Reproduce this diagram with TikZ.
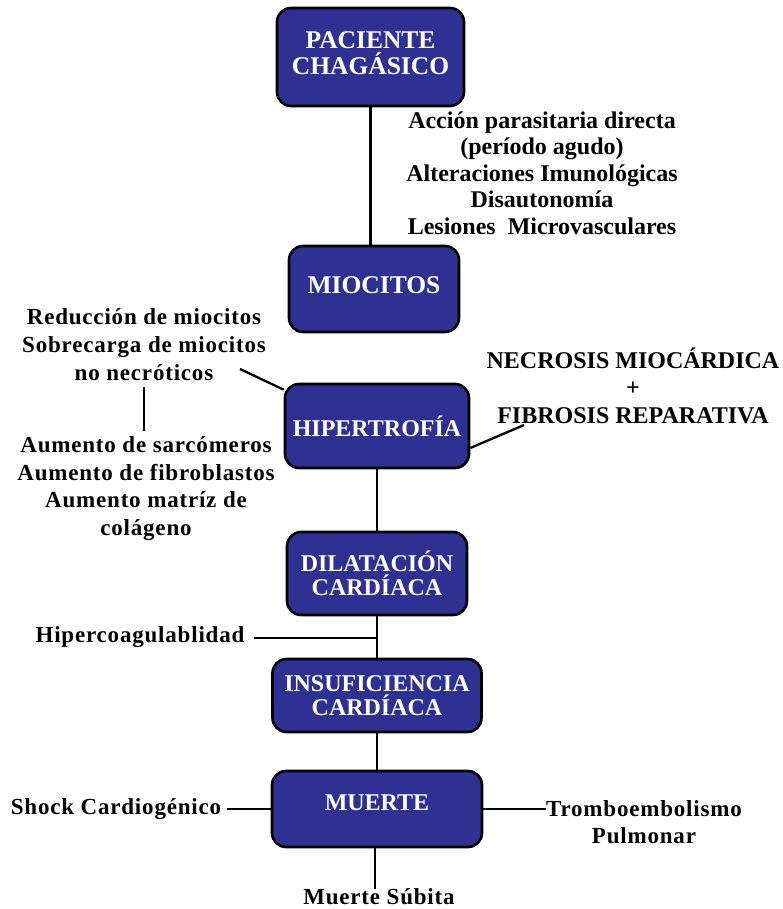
\documentclass[tikz,border=0pt]{standalone}
\usepackage{fontspec}
\setmainfont{Liberation Serif}
\newfontfamily\spacedfont[LetterSpace=3.5]{Liberation Serif}
\definecolor{boxblue}{RGB}{46,49,146}

\begin{document}
\begin{tikzpicture}[
x=1pt,
y=-1pt,
font=\bfseries\fontsize{24}{26.5}\selectfont,
box/.style={
rectangle,
rounded corners=14pt,
draw=black,
line width=2.6pt,
fill=boxblue,
text=white,
align=center,
inner sep=0pt,
font=\bfseries\fontsize{24}{24.5}\selectfont
},
note/.style={
align=center,
inner sep=0pt
},
spaced/.style={
font=\spacedfont\bfseries\fontsize{23}{#1}\selectfont
},
spaced/.default=27.7,
link/.style={
line width=2.3pt
}
]

\useasboundingbox (0,0) rectangle (783,909);

% Main column
\node[box, minimum width=187pt, minimum height=98pt, text depth=8pt,
font=\bfseries\fontsize{25.5}{25.5}\selectfont] (paciente) at (370.5,57)
{PACIENTE\\CHAGÁSICO};

\node[box, minimum width=170pt, minimum height=86pt, text depth=8pt,
font=\bfseries\fontsize{25.5}{25.5}\selectfont] (miocitos) at (374,289)
{MIOCITOS};

\node[box, minimum width=184pt, minimum height=84pt] (hipertrofia) at (377,426)
{HIPERTROFÍA};

\node[box, minimum width=180pt, minimum height=83pt] (dilatacion) at (377,573.5)
{DILATACIÓN\\CARDÍACA};

\node[box, minimum width=209pt, minimum height=73pt] (insuficiencia) at (377,695.5)
{INSUFICIENCIA\\CARDÍACA};

\node[box, minimum width=210pt, minimum height=76pt, text depth=12pt] (muerte) at (377,809)
{MUERTE};

% Side notes
\node[note] (causas) at (542,173)
{Acción parasitaria directa\\(período agudo)\\Alteraciones Imunológicas\\Disautonomía\\Lesiones\ \ Microvasculares};

\node[note, spaced=28] (reduccion) at (144,345)
{Reducción de miocitos\\Sobrecarga de miocitos\\no necróticos};

\node[note, spaced] (aumento) at (146,488.5)
{Aumento de sarcómeros\\Aumento de fibroblastos\\Aumento matríz de\\colágeno};

\node[note, font=\bfseries\fontsize{24}{27.5}\selectfont] (necrosis) at (633,385.5)
{NECROSIS MIOCÁRDICA\\+\\FIBROSIS REPARATIVA};

\node[note, spaced] (hipercoag) at (140,637)
{Hipercoagulablidad};

\node[note, spaced] (shock) at (116,809.5)
{Shock Cardiogénico};

\node[note, spaced=27] (trombo) at (644,822.5)
{Tromboembolismo\\Pulmonar};

\node[note, spaced] (subita) at (379,897)
{Muerte Súbita};

% Free ends of the slanted lines
\coordinate (necroticos) at (240,369);
\coordinate (fibrosis) at (524,425);

% Connectors
\draw[link] (paciente.south) -- (paciente.south |- miocitos.north);
\draw[link] (hipertrofia.south) -- (hipertrofia.south |- dilatacion.north);
\draw[link] (dilatacion.south) -- (insuficiencia.north);
\draw[link] (insuficiencia.south) -- (insuficiencia.south |- muerte.north);
\draw[link] ([xshift=-2pt]muerte.south) -- ([xshift=-2pt]muerte.south |- subita.north);

\draw[link] (necroticos) -- ([yshift=-7pt]hipertrofia.north west);
\draw[link, shorten <=6pt, shorten >=5pt] (reduccion.south) -- (reduccion.south |- aumento.north);
\draw[link] ([yshift=-22pt]hipertrofia.east) -- (fibrosis);

\draw[link, shorten <=9pt] ([yshift=-1pt]hipercoag.east) -- ([yshift=-1pt]hipercoag.east -| dilatacion.south);
\draw[link, shorten >=6pt] (muerte.west) -- (muerte.west -| shock.east);
\draw[link] (muerte.east) -- (muerte.east -| trombo.west);

\end{tikzpicture}
\end{document}
